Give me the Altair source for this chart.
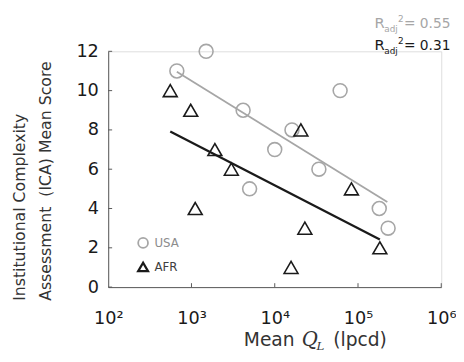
import altair as alt
import pandas as pd

# ---- data ----
groups = ["USA", "AFR"]
group_colors = ["#a6a6a6", "#1a1a1a"]
group_shapes = ["circle", "triangle-up"]
fit_widths = [1.8, 2.3]

usa_q = [667, 1500, 4170, 61000, 16100, 10000, 33900, 4990, 180000, 230000]
usa_ica = [11, 12, 9, 10, 8, 7, 6, 5, 4, 3]
afr_q = [556, 980, 20600, 1910, 3010, 83400, 1110, 23000, 183000, 15700]
afr_ica = [10, 9, 8, 7, 6, 5, 4, 3, 2, 1]

usa_fit_q = [667, 225000]
usa_fit_ica = [10.96, 4.33]
afr_fit_q = [556, 183000]
afr_fit_ica = [7.92, 2.42]

r2_values = [0.55, 0.31]

x_ticks = [100, 1000, 10000, 100000, 1000000]
x_tick_labels = ["10²", "10³", "10⁴", "10⁵", "10⁶"]
y_ticks = [0, 2, 4, 6, 8, 10, 12]

y_title_lines = ["Institutional Complexity", "Assessment\u00a0 (ICA) Mean Score"]

FONT = "DejaVu Sans"
AXIS_COLOR = "#595959"
TEXT_COLOR = "#1a1a1a"
TITLE_COLOR = "#333333"

# ---- tables ----
pts = pd.DataFrame({
    "q": usa_q + afr_q,
    "ica": usa_ica + afr_ica,
    "group": ["USA"] * len(usa_q) + ["AFR"] * len(afr_q),
})
fits = pd.DataFrame({
    "q": usa_fit_q + afr_fit_q,
    "ica": usa_fit_ica + afr_fit_ica,
    "group": ["USA"] * 2 + ["AFR"] * 2,
})
xt = pd.DataFrame({"q": x_ticks[1:]})
yt = pd.DataFrame({"ica": y_ticks})
dummy = pd.DataFrame({"a": [0]})

label_expr = " : ".join(
    f"datum.value == {v} ? '{l}'" for v, l in zip(x_ticks, x_tick_labels)
) + " : ''"

x_scale = alt.Scale(type="log", domain=[100, 1000000], nice=False)
y_scale = alt.Scale(domain=[0, 12], nice=False)
x_axis = alt.Axis(values=x_ticks, labelExpr=label_expr, ticks=False, grid=False,
                  title=None, labelFont=FONT, labelFontSize=18, labelColor=TEXT_COLOR,
                  labelPadding=23, domainColor=AXIS_COLOR, labelFlush=False,
                  labelOverlap=False)
y_axis = alt.Axis(values=y_ticks, ticks=False, grid=False, title=None,
                  labelFont=FONT, labelFontSize=18, labelColor=TEXT_COLOR,
                  labelPadding=10, domainColor=AXIS_COLOR, labelOverlap=False,
                  labelFlush=False)
x_enc = alt.X("q:Q", scale=x_scale, axis=x_axis)
y_enc = alt.Y("ica:Q", scale=y_scale, axis=y_axis)

legend = alt.Legend(
    title=None, orient="none", legendX=29, legendY=189,
    labelFont=FONT, labelFontSize=12, symbolSize=100, symbolStrokeWidth=1.5,
    rowPadding=6, labelOffset=5, padding=0,
    labelColor=alt.ExprRef("datum.label == 'USA' ? '#8c8c8c' : '#404040'"),
)
color_enc = alt.Color("group:N", scale=alt.Scale(domain=groups, range=group_colors), legend=legend)
shape_enc = alt.Shape("group:N", scale=alt.Scale(domain=groups, range=group_shapes), legend=legend)

points = alt.Chart(pts).mark_point(filled=False, size=200, strokeWidth=1.6, opacity=1).encode(
    x=x_enc, y=y_enc, color=color_enc, shape=shape_enc
)

lines = alt.Chart(fits).mark_line().encode(
    x=x_enc, y=y_enc,
    color=alt.Color("group:N", scale=alt.Scale(domain=groups, range=group_colors), legend=None),
    strokeWidth=alt.StrokeWidth("group:N", scale=alt.Scale(domain=groups, range=fit_widths), legend=None),
    detail="group:N",
)

xtick_rules = alt.Chart(xt).mark_rule(color=AXIS_COLOR, strokeWidth=1).encode(
    x=x_enc, y=alt.value(240), y2=alt.value(236)
)
ytick_rules = alt.Chart(yt).mark_rule(color=AXIS_COLOR, strokeWidth=1).encode(
    y=y_enc, x=alt.value(0), x2=alt.value(4)
)


def txt(s, x, y, size, color=TEXT_COLOR, font=FONT, style="normal", angle=0, align="left"):
    return alt.Chart(dummy).mark_text(
        text=s, font=font, fontSize=size, fontStyle=style, color=color,
        align=align, baseline="alphabetic", angle=angle,
    ).encode(x=alt.value(x), y=alt.value(y))


annot = []
# R^2 annotations
for i, (val, col) in enumerate(zip(r2_values, ["#a6a6a6", "#1a1a1a"])):
    base = -24 + i * 23
    annot += [
        txt("R", 271, base, 15, col),
        txt("adj", 281, base + 4, 9, col),
        txt("2", 295, base - 6, 9, col),
        txt(f"= {val:.2f}", 301, base, 14, col),
    ]

# x title
annot += [
    txt("Mean", 138, 300, 19, TITLE_COLOR),
    txt("Q", 197, 300, 20, TITLE_COLOR, font="DejaVu Serif", style="italic"),
    txt("L", 212, 304, 12, TITLE_COLOR, font="DejaVu Serif", style="italic"),
    txt("(lpcd)", 229, 300, 19, TITLE_COLOR),
]

# y title (two left-aligned rotated lines)
annot += [
    txt(y_title_lines[0], -85, 254, 16, TITLE_COLOR, angle=270),
    txt(y_title_lines[1], -58, 254, 16, TITLE_COLOR, angle=270),
]

chart = alt.layer(points, lines, xtick_rules, ytick_rules, *annot).properties(
    width=339, height=240,
    padding={"left": 102, "top": 41, "right": 15, "bottom": 65},
    autosize="none",
).configure_view(stroke=None).configure(background="white")

chart.save("out.html", embed_options={"renderer": "svg", "actions": False})
